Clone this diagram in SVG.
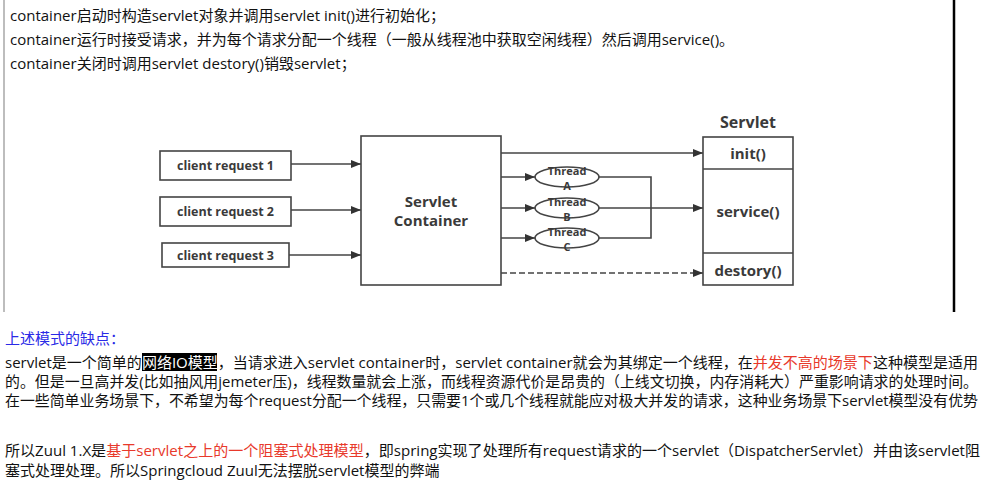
<svg xmlns="http://www.w3.org/2000/svg" width="1002" height="492" viewBox="0 0 1002 492">
<defs>
<style>
.t{font-family:"Open Sans","Noto Sans CJK SC",sans-serif;font-size:15px;fill:#111}
.red{fill:#e8392b}
.blue{fill:#2a2ae6}
.hl{fill:#fff}
.d{font-family:"Open Sans","Noto Sans CJK SC",sans-serif;font-weight:700;fill:#3a3a3a;text-anchor:middle}
.box{fill:#fff;stroke:#444;stroke-width:1.6}
.ln{fill:none;stroke:#444;stroke-width:1.6}
.dash{fill:none;stroke:#444;stroke-width:1.6;stroke-dasharray:6 3}
</style>
<marker id="ah" viewBox="0 0 10 8" refX="10" refY="4" markerWidth="10" markerHeight="8" markerUnits="userSpaceOnUse" orient="auto">
<path d="M0,0 L10,4 L0,8 z" fill="#333"/>
</marker>
</defs>
<rect width="1002" height="492" fill="#fff"/>
<line x1="4" y1="0" x2="4" y2="312" stroke="#bdbdbd" stroke-width="2"/>
<line x1="954" y1="0" x2="954" y2="312" stroke="#000" stroke-width="2.5"/>

<g id="intro">
<text class="t" x="10" y="21">container启动时构造servlet对象并调用servlet init()进行初始化；</text>
<text class="t" x="10" y="45">container运行时接受请求，并为每个请求分配一个线程（一般从线程池中获取空闲线程）然后调用service()。</text>
<text class="t" x="10" y="69">container关闭时调用servlet destory()销毁servlet；</text>
</g>

<g id="connectors">
<line class="ln" x1="291" y1="164" x2="361" y2="164" marker-end="url(#ah)"/>
<line class="ln" x1="291" y1="210" x2="361" y2="210" marker-end="url(#ah)"/>
<line class="ln" x1="289" y1="255" x2="361" y2="255" marker-end="url(#ah)"/>
<line class="ln" x1="501" y1="153" x2="703" y2="153" marker-end="url(#ah)"/>
<line class="ln" x1="501" y1="177" x2="535" y2="177" marker-end="url(#ah)"/>
<line class="ln" x1="501" y1="208" x2="535" y2="208" marker-end="url(#ah)"/>
<line class="ln" x1="501" y1="238" x2="535" y2="238" marker-end="url(#ah)"/>
<polyline class="ln" points="599,177 651,177 651,238 599,238"/>
<line class="ln" x1="599" y1="208" x2="703" y2="208" marker-end="url(#ah)"/>
<line class="dash" x1="501" y1="273" x2="703" y2="273" marker-end="url(#ah)"/>
</g>

<g id="req1"><rect class="box" x="160" y="151" width="131" height="29"/><text class="d" x="225.5" y="170" font-size="12.5">client request 1</text></g>
<g id="req2"><rect class="box" x="160" y="197" width="131" height="29"/><text class="d" x="225.5" y="216" font-size="12.5">client request 2</text></g>
<g id="req3"><rect class="box" x="162" y="243" width="127" height="24"/><text class="d" x="225.5" y="260" font-size="12.5">client request 3</text></g>

<g id="container"><rect class="box" x="361" y="136" width="140" height="149"/><text class="d" x="431" y="207" font-size="15">Servlet</text><text class="d" x="431" y="226" font-size="15">Container</text></g>

<g id="threadA"><ellipse class="box" cx="567" cy="177" rx="32" ry="10"/><text class="d" x="567" y="175" font-size="11" font-weight="600">Thread</text><text class="d" x="567" y="190" font-size="11" font-weight="600">A</text></g>
<g id="threadB"><ellipse class="box" cx="567" cy="208" rx="32" ry="10"/><text class="d" x="567" y="206" font-size="11" font-weight="600">Thread</text><text class="d" x="567" y="221" font-size="11" font-weight="600">B</text></g>
<g id="threadC"><ellipse class="box" cx="567" cy="238" rx="32" ry="10"/><text class="d" x="567" y="236" font-size="11" font-weight="600">Thread</text><text class="d" x="567" y="251" font-size="11" font-weight="600">C</text></g>

<g id="servlet">
<text class="d" x="748" y="128" font-size="16">Servlet</text>
<rect class="box" x="703" y="137" width="90" height="148"/>
<line class="ln" x1="703" y1="169" x2="793" y2="169"/>
<line class="ln" x1="703" y1="253" x2="793" y2="253"/>
<text class="d" x="748" y="159" font-size="15">init()</text>
<text class="d" x="748" y="217" font-size="15">service()</text>
<text class="d" x="748" y="276" font-size="15">destory()</text>
</g>

<g id="notes">
<text class="t blue" x="5" y="344">上述模式的缺点：</text>
<rect x="142" y="353" width="75" height="18" fill="#000"/>
<text class="t" x="5" y="368" textLength="973" lengthAdjust="spacingAndGlyphs">servlet是一个简单的<tspan class="hl">网络IO模型</tspan>，当请求进入servlet container时，servlet container就会为其绑定一个线程，在<tspan class="red">并发不高的场景下</tspan>这种模型是适用</text>
<text class="t" x="5" y="387" textLength="973" lengthAdjust="spacingAndGlyphs">的。但是一旦高并发(比如抽风用jemeter压)，线程数量就会上涨，而线程资源代价是昂贵的（上线文切换，内存消耗大）严重影响请求的处理时间。</text>
<text class="t" x="5" y="406" textLength="973" lengthAdjust="spacingAndGlyphs">在一些简单业务场景下，不希望为每个request分配一个线程，只需要1个或几个线程就能应对极大并发的请求，这种业务场景下servlet模型没有优势</text>
<text class="t" x="5" y="456" textLength="975" lengthAdjust="spacingAndGlyphs">所以Zuul 1.X是<tspan class="red">基于servlet之上的一个阻塞式处理模型</tspan>，即spring实现了处理所有request请求的一个servlet（DispatcherServlet）并由该servlet阻</text>
<text class="t" x="5" y="476">塞式处理处理。所以Springcloud Zuul无法摆脱servlet模型的弊端</text>
</g>
</svg>
